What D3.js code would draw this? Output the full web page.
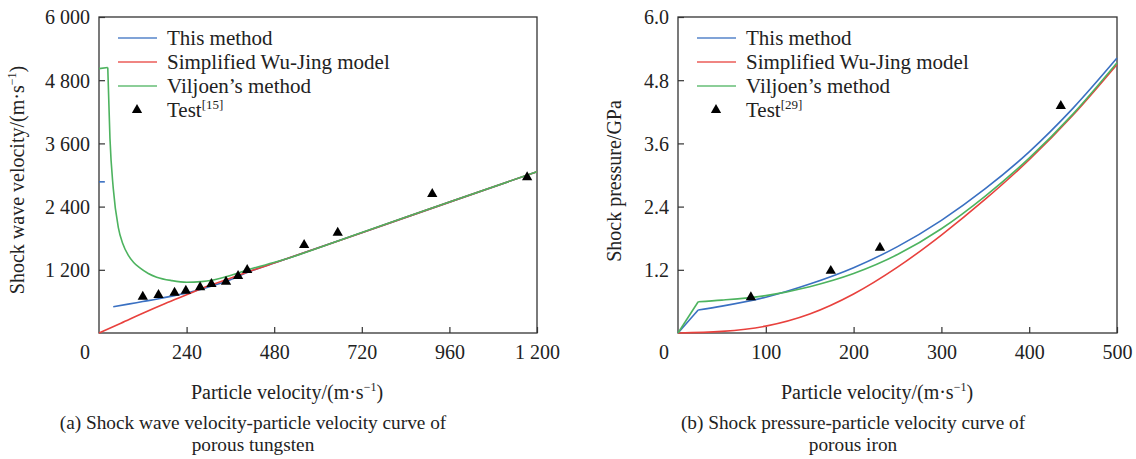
<!DOCTYPE html>
<html>
<head>
<meta charset="utf-8">
<script src="https://d3js.org/d3.v7.min.js"></script>
<style>
  body { margin: 0; background: #fff; }
  text { font-family: "Liberation Serif", "Times New Roman", serif; fill: #222; }
</style>
</head>
<body>
<svg width="1136" height="459"></svg>
<script>
// ---- panel (a): porous tungsten, shock wave velocity vs particle velocity
var aTicksX = [240, 480, 720, 960, 1200];
var aTicksY = [1200, 2400, 3600, 4800, 6000];
var aTickLabelsX = ["240", "480", "720", "960", "1 200"];
var aTickLabelsY = ["1 200", "2 400", "3 600", "4 800", "6 000"];
var aThisMethodStub = [[0, 2870], [16, 2870]];
var aThisMethod = [[39, 500], [80, 548], [120, 597], [160, 645], [200, 700], [240, 760], [280, 830],
  [320, 915], [360, 1010], [406, 1150], [496, 1367], [720, 1905], [960, 2485], [1200, 3063]];
var aWuJing = [[0, 0], [60, 185], [120, 375], [180, 555], [240, 725], [300, 895], [360, 1040],
  [406, 1155], [496, 1367], [720, 1905], [960, 2485], [1200, 3063]];
var aViljoen = [[0, 5020], [24, 5040], [30, 3700], [39, 2750], [53, 2000], [65, 1700], [80, 1480],
  [95, 1340], [112, 1235], [135, 1130], [158, 1060], [200, 995], [240, 965], [280, 975], [313, 1006],
  [360, 1090], [406, 1196], [496, 1370], [720, 1908], [960, 2487], [1200, 3063]];
var aTest = [[120, 690], [163, 721], [207, 765], [238, 803], [277, 868], [308, 930], [348, 974],
  [381, 1082], [406, 1196], [562, 1671], [654, 1905], [913, 2639], [1173, 2956]];

// ---- panel (b): porous iron, shock pressure vs particle velocity
var bTicksX = [100, 200, 300, 400, 500];
var bTicksY = [1.2, 2.4, 3.6, 4.8, 6.0];
var bTickLabelsX = ["100", "200", "300", "400", "500"];
var bTickLabelsY = ["1.2", "2.4", "3.6", "4.8", "6.0"];
var bThisMethod = [[0, 0], [23, 0.436], [50, 0.51], [100, 0.68], [150, 0.93], [200, 1.24], [250, 1.64],
  [300, 2.14], [350, 2.74], [400, 3.44], [450, 4.27], [500, 5.22]];
var bWuJing = [[0, 0], [50, 0.03], [100, 0.13], [150, 0.36], [200, 0.74], [250, 1.25], [300, 1.86],
  [350, 2.54], [400, 3.29], [450, 4.14], [500, 5.1]];
var bViljoen = [[0, 0], [23, 0.594], [50, 0.625], [100, 0.71], [150, 0.88], [200, 1.13], [250, 1.49],
  [300, 1.98], [350, 2.6], [400, 3.32], [450, 4.16], [500, 5.13]];
var bTest = [[83, 0.678], [174, 1.18], [230, 1.62], [436, 4.31]];

var legendNames = ["This method", "Simplified Wu-Jing model", "Viljoen\u2019s method"];
var colors = ["#3a70c2", "#e8413d", "#4db35f"];

var svg = d3.select("svg");

function drawPanel(p) {
  var x = d3.scaleLinear().domain([0, p.xMax]).range([p.left, p.right]);
  var y = d3.scaleLinear().domain([0, p.yMax]).range([p.bottom, p.top]);
  var g = svg.append("g");

  // frame
  g.append("rect")
    .attr("x", p.left).attr("y", p.top)
    .attr("width", p.right - p.left).attr("height", p.bottom - p.top)
    .attr("fill", "none").attr("stroke", "#333").attr("stroke-width", 1.3);

  // inward ticks
  g.append("g")
    .attr("transform", "translate(0," + p.bottom + ")")
    .call(d3.axisBottom(x).tickValues(p.ticksX).tickSize(-6).tickFormat(function(d, i) { return p.labelsX[i]; }))
    .call(function(s) {
      s.select(".domain").remove();
      s.selectAll("line").attr("stroke", "#333").attr("stroke-width", 1.2);
      s.selectAll("text").attr("y", 12).attr("dy", "0.71em").attr("font-size", 20)
        .style("font-family", "Liberation Serif").attr("fill", "#222");
    });
  g.append("g")
    .attr("transform", "translate(" + p.left + ",0)")
    .call(d3.axisLeft(y).tickValues(p.ticksY).tickSize(-6).tickFormat(function(d, i) { return p.labelsY[i]; }))
    .call(function(s) {
      s.select(".domain").remove();
      s.selectAll("line").attr("stroke", "#333").attr("stroke-width", 1.2);
      s.selectAll("text").attr("x", -9).attr("dy", "0.34em").attr("font-size", 20)
        .style("font-family", "Liberation Serif").attr("fill", "#222");
    });
  g.append("text").attr("x", p.left - 14).attr("y", p.bottom + 26)
    .attr("text-anchor", "middle").attr("font-size", 20).text("0");

  // curves: optional straight lead-in, smooth remainder
  var smooth = d3.line()
    .x(function(d) { return x(d[0]); })
    .y(function(d) { return y(d[1]); })
    .curve(d3.curveMonotoneX);
  var straight = d3.line()
    .x(function(d) { return x(d[0]); })
    .y(function(d) { return y(d[1]); });
  p.series.forEach(function(s) {
    var k = s.lead || 0;
    var parts = [];
    if (k > 0) parts.push([s.data.slice(0, k + 1), straight]);
    parts.push([s.data.slice(k), s.lin ? straight : smooth]);
    parts.forEach(function(pt) {
      g.append("path").datum(pt[0])
        .attr("d", pt[1])
        .attr("fill", "none")
        .attr("stroke", colors[s.c])
        .attr("stroke-width", 1.6)
        .attr("stroke-linejoin", "round");
    });
  });

  // test points
  var tri = d3.symbol().type(d3.symbolTriangle).size(46);
  g.selectAll(".pt").data(p.test).enter().append("path")
    .attr("d", tri)
    .attr("transform", function(d) { return "translate(" + x(d[0]) + "," + y(d[1]) + ")"; })
    .attr("fill", "#000");

  // legend
  var lx = p.left + 19, ly = 38;
  legendNames.forEach(function(n, i) {
    g.append("line").attr("x1", lx).attr("x2", lx + 39)
      .attr("y1", ly + i * 24).attr("y2", ly + i * 24)
      .attr("stroke", colors[i]).attr("stroke-width", 1.4).attr("opacity", 0.85);
    g.append("text").attr("x", lx + 49).attr("y", ly + i * 24 + 7)
      .attr("font-size", 21).text(n);
  });
  g.append("path").attr("d", tri)
    .attr("transform", "translate(" + (lx + 19) + "," + (ly + 72) + ")").attr("fill", "#000");
  var tt = g.append("text").attr("x", lx + 49).attr("y", ly + 79).attr("font-size", 21);
  tt.append("tspan").text("Test");
  tt.append("tspan").attr("font-size", 13).attr("dy", -8).text(p.ref);

  // axis titles
  var xt = g.append("text").attr("x", p.xLabelX).attr("y", 399)
    .attr("text-anchor", "middle").attr("font-size", 20);
  xt.append("tspan").text("Particle velocity/(m\u00b7s");
  xt.append("tspan").attr("font-size", 12).attr("dy", -8).text("\u22121");
  xt.append("tspan").attr("dy", 8).text(")");

  var yt = g.append("text")
    .attr("transform", "translate(" + p.yLabelX + "," + p.yLabelY + ") rotate(-90)")
    .attr("text-anchor", "middle").attr("font-size", 20);
  p.yLabel.forEach(function(part) {
    var t = yt.append("tspan").text(part.t);
    if (part.sup) t.attr("font-size", 12).attr("dy", -8);
    if (part.down) t.attr("dy", 8);
  });

  // caption
  p.caption.forEach(function(c, i) {
    g.append("text").attr("x", p.capX).attr("y", 429 + i * 22)
      .attr("text-anchor", "middle").attr("font-size", 19.3).text(c);
  });
}

drawPanel({
  left: 99, right: 537, top: 17, bottom: 333,
  xMax: 1200, yMax: 6000,
  ticksX: aTicksX, ticksY: aTicksY, labelsX: aTickLabelsX, labelsY: aTickLabelsY,
  series: [
    { data: aThisMethodStub, c: 0, lin: true },
    { data: aThisMethod, c: 0 },
    { data: aWuJing, c: 1 },
    { data: aViljoen, c: 2, lead: 1 }
  ],
  test: aTest, ref: "[15]",
  xLabelX: 287, yLabelX: 24, yLabelY: 180,
  yLabel: [{ t: "Shock wave velocity/(m\u00b7s" }, { t: "\u22121", sup: true }, { t: ")", down: true }],
  caption: ["(a) Shock wave velocity-particle velocity curve of", "porous tungsten"],
  capX: 253
});

drawPanel({
  left: 678, right: 1117, top: 17, bottom: 333,
  xMax: 500, yMax: 6,
  ticksX: bTicksX, ticksY: bTicksY, labelsX: bTickLabelsX, labelsY: bTickLabelsY,
  series: [
    { data: bThisMethod, c: 0, lead: 1 },
    { data: bWuJing, c: 1 },
    { data: bViljoen, c: 2, lead: 1 }
  ],
  test: bTest, ref: "[29]",
  xLabelX: 877, yLabelX: 621, yLabelY: 181,
  yLabel: [{ t: "Shock pressure/GPa" }],
  caption: ["(b) Shock pressure-particle velocity curve of", "porous iron"],
  capX: 853
});
</script>
</body>
</html>
